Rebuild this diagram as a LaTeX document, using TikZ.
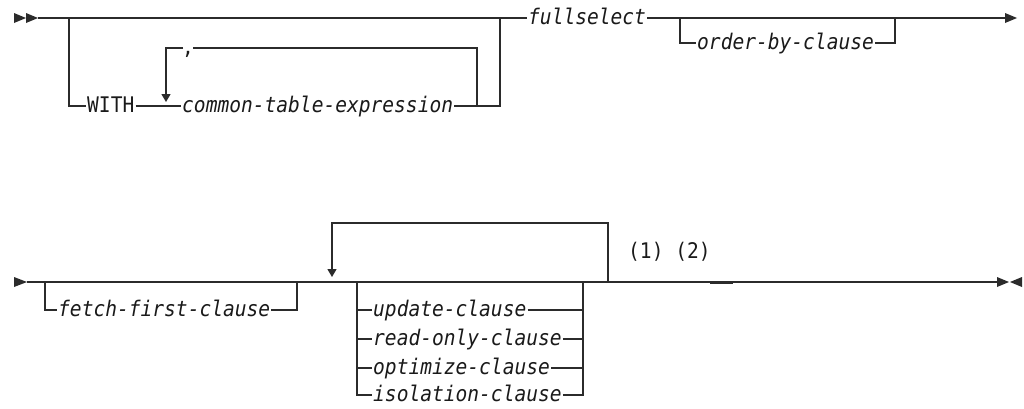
\documentclass[tikz,border=0pt]{standalone}
\usepackage{fontspec}
\usepackage{graphicx}
\setmonofont{DejaVu Sans Mono}
\usetikzlibrary{arrows.meta}
\definecolor{lc}{HTML}{2B2B2B}
\definecolor{tc}{HTML}{1A1A1A}
\newcommand{\nar}[1]{\scalebox{0.91}[1]{#1}}
\begin{document}
\begin{tikzpicture}[x=1pt,y=-1pt,
  ln/.style={draw=lc, line width=1.3pt},
  dn/.style={ln, -{Triangle[width=9pt,length=8pt]}},
  it/.style={font=\ttfamily\itshape\fontsize{21.5}{24}\selectfont, inner sep=0pt, anchor=base west, text=tc},
  kw/.style={font=\ttfamily\fontsize{21.5}{24}\selectfont, inner sep=0pt, anchor=base west, text=tc},
  tri/.style={fill=lc, draw=none}]
\useasboundingbox[fill=white] (0,0) rectangle (1024,408);

% ---------- row coordinates ----------
\coordinate (Y1) at (0,18);
\coordinate (Y1b) at (0,106);
\coordinate (Yc) at (0,48);
\coordinate (Yo) at (0,43);
\coordinate (Y2) at (0,282);
\coordinate (Yt) at (0,223);
\coordinate (Yf) at (0,310);
\coordinate (Yu) at (0,310);
\coordinate (Yr) at (0,339);
\coordinate (Yop) at (0,368);
\coordinate (Yi) at (0,395);

% ---------- row 1 ----------
\fill[tri] (14,13) -- (14,23) -- (26,18) -- cycle;
\fill[tri] (26,13) -- (26,23) -- (38,18) -- cycle;
\coordinate (s1) at (38,18);
\coordinate (j1) at (69,18);
\coordinate (j2) at (500,18);
\coordinate (j3) at (680,18);
\coordinate (j4) at (895,18);
\coordinate (e1) at (1006,18);
\coordinate (lr) at (477,106);
\coordinate (la) at (166,102);

\node[kw] (with) at (87,112.5) {\nar{WITH}};
\node[it] (cte) at (182,112.5) {\nar{common-table-expression}};
\node[kw] (comma) at (182,54) {\nar{,}};
\node[it] (fs) at (528,24.5) {\nar{fullselect}};
\node[it] (ob) at (697,49.5) {\nar{order-by-clause}};

\draw[ln] (s1) -- ([xshift=-1pt]fs.west |- Y1);
\draw[ln] (j1) |- ([xshift=-1pt]with.west |- Y1b);
\draw[ln] ([xshift=1pt]with.east |- Y1b) -- ([xshift=-1pt]cte.west |- Y1b);
\draw[ln] ([xshift=1pt]cte.east |- Y1b) -| (j2);
\draw[ln] (lr) |- ([xshift=-1pt]comma.east |- Yc);
\draw[dn] ([xshift=1pt]comma.west |- Yc) -| (la);
\draw[ln] ([xshift=1pt]fs.east |- Y1) -- (e1);
\draw[ln] (j3) |- ([xshift=-1pt]ob.west |- Yo);
\draw[ln] ([xshift=1pt]ob.east |- Yo) -| (j4);
\fill[tri] (1005,13) -- (1005,23) -- (1017,18) -- cycle;

% ---------- row 2 ----------
\fill[tri] (14,277) -- (14,287) -- (27,282) -- cycle;
\coordinate (s2) at (27,282);
\coordinate (e2) at (998,282);
\coordinate (j5) at (45,282);
\coordinate (j6) at (297,282);
\coordinate (lt) at (608,282);
\coordinate (la2) at (332,277);
\coordinate (j7) at (357,282);
\coordinate (j8) at (583,282);

\node[it] (ff) at (58,316.5) {\nar{fetch-first-clause}};
\node[it] (up) at (373,316.5) {\nar{update-clause}};
\node[it] (ro) at (373,345.5) {\nar{read-only-clause}};
\node[it] (op) at (373,374.5) {\nar{optimize-clause}};
\node[it] (iso) at (373,401.5) {\nar{isolation-clause}};
\node[kw, anchor=west] (notes) at (628,252) {\nar{(1) (2)}};

\draw[ln] (s2) -- (e2);
\draw[ln] (j5) |- ([xshift=-1pt]ff.west |- Yf);
\draw[ln] ([xshift=1pt]ff.east |- Yf) -| (j6);
\draw[dn] (lt) |- (la2 |- Yt) -- (la2);
\draw[ln] (j7) |- ([xshift=-1pt]iso.west |- Yi);
\draw[ln] (j7 |- Yu) -- ([xshift=-1pt]up.west |- Yu);
\draw[ln] (j7 |- Yr) -- ([xshift=-1pt]ro.west |- Yr);
\draw[ln] (j7 |- Yop) -- ([xshift=-1pt]op.west |- Yop);
\draw[ln] ([xshift=1pt]iso.east |- Yi) -| (j8);
\draw[ln] ([xshift=1pt]up.east |- Yu) -- (j8 |- Yu);
\draw[ln] ([xshift=1pt]ro.east |- Yr) -- (j8 |- Yr);
\draw[ln] ([xshift=1pt]op.east |- Yop) -- (j8 |- Yop);
\coordinate (m1) at (710,283);
\coordinate (m2) at (733,283);
\draw[draw=lc, line width=2.4pt] (m1) -- (m2);
\fill[tri] (997,277) -- (997,287) -- (1009,282) -- cycle;
\fill[tri] (1022,277) -- (1022,287) -- (1010,282) -- cycle;
\end{tikzpicture}
\end{document}
